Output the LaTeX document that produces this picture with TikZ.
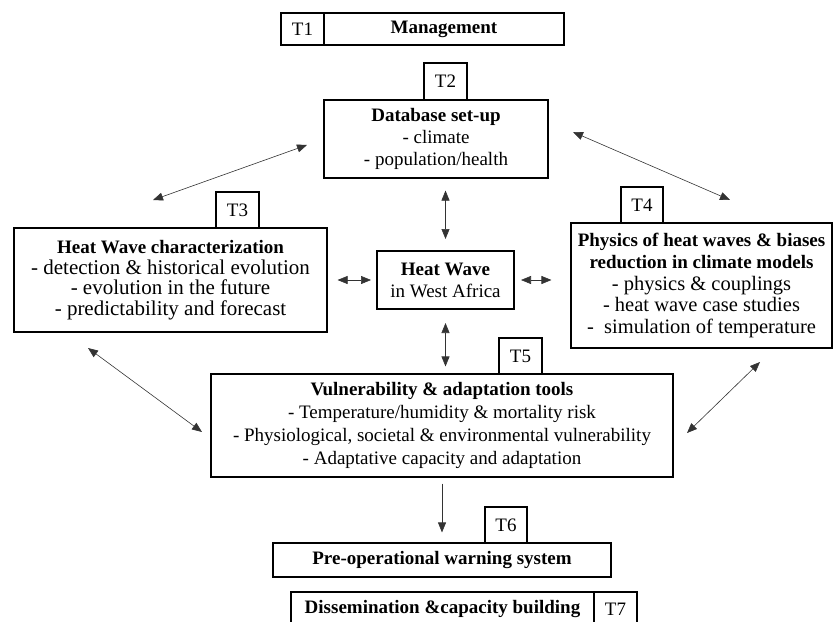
\documentclass[tikz,border=0pt]{standalone}
\usepackage{fontspec}
\setmainfont{Liberation Serif}
\usetikzlibrary{arrows.meta}
\newcommand{\bodybig}{\fontsize{21}{20.5}\selectfont}
\newcommand{\bodymid}{\fontsize{20.5}{21.7}\selectfont}
\begin{document}
\begin{tikzpicture}[x=1pt,y=-1pt,
  box/.style={draw,line width=1.1pt,inner sep=0pt,align=center,font=\fontsize{19}{22}\selectfont},
  tightbox/.style={box,font=\fontsize{19}{20.5}\selectfont},
  midbox/.style={box,font=\fontsize{19}{21.7}\selectfont},
  widebox/.style={box,font=\fontsize{19}{23}\selectfont},
  thickbox/.style={box,line width=2pt},
  biarr/.style={{Triangle[length=10pt,width=8pt]}-{Triangle[length=10pt,width=8pt]},line width=0.6pt,draw=black!80},
  onearr/.style={-{Triangle[length=10pt,width=8pt]},line width=0.6pt,draw=black!80}]
\useasboundingbox (0,0) rectangle (834,621);

% top
\node[box,minimum width=43pt,minimum height=32pt] (t1) at (302.5,29) {T1};
\node[box,minimum width=240pt,minimum height=32pt] (mg) at (444,29) {\textbf{Management}};

% database
\node[box,minimum width=43pt,minimum height=37pt] (t2) at (445.5,81.5) {T2};
\node[box,minimum width=224pt,minimum height=78pt] (db) at (436,139) {\textbf{Database set-up}\\- climate\\- population/health};

% heat wave characterization
\node[box,minimum width=43pt,minimum height=36pt] (t3) at (237.5,210) {T3};
\node[tightbox,minimum width=313pt,minimum height=104pt] (hwc) at (170.5,280) {\textbf{Heat Wave characterization}\\{\bodybig - detection \& historical evolution}\\{\bodybig - evolution in the future}\\{\bodybig - predictability and forecast}};

% physics
\node[box,minimum width=42pt,minimum height=36pt] (t4) at (642,205) {T4};
\node[midbox,minimum width=261pt,minimum height=125pt] (ph) at (701.5,285.5) {\textbf{Physics of heat waves \& biases}\\\textbf{reduction in climate models}\\{\bodymid - physics \& couplings}\\{\bodymid - heat wave case studies}\\{\bodymid -\ \ simulation of temperature}};

% center
\node[thickbox,minimum width=137pt,minimum height=58pt] (hw) at (445.5,280) {\textbf{Heat Wave}\\in West Africa};

% vulnerability
\node[box,minimum width=43pt,minimum height=36pt] (t5) at (520.5,356) {T5};
\node[widebox,minimum width=462pt,minimum height=103pt] (vu) at (442,425.5) {\textbf{Vulnerability \& adaptation tools}\\- Temperature/humidity \& mortality risk\\- Physiological, societal \& environmental vulnerability\\- Adaptative capacity and adaptation};

% pre-operational
\node[box,minimum width=42pt,minimum height=36pt] (t6) at (506,525) {T6};
\node[box,minimum width=338pt,minimum height=34pt] (pr) at (442,560) {\textbf{Pre-operational warning system}};

% dissemination
\node[box,minimum width=303pt,minimum height=34pt] (ds) at (442.5,609) {\textbf{Dissemination \&capacity building}};
\node[box,minimum width=43pt,minimum height=34pt] (t7) at (615.5,609) {T7};

% straight connectors
\draw[biarr,shorten <=12pt,shorten >=11pt] (hw.north |- db.south) -- (hw.north);
\draw[biarr,shorten <=13pt,shorten >=7pt] (hw.south) -- (hw.south |- vu.north);
\draw[biarr,shorten <=5pt,shorten >=10pt] (hw.west) -- (hw.west -| hwc.east);
\draw[biarr,shorten <=6pt,shorten >=19pt] (hw.east) -- (hw.east -| ph.west);
\draw[onearr,shorten <=6pt,shorten >=10pt] (vu.south) -- (vu.south |- pr.north);

% diagonal connectors
\coordinate (d1a) at (307,145); \coordinate (d1b) at (153,200);
\coordinate (d2a) at (573,132); \coordinate (d2b) at (730,200);
\coordinate (d3a) at (88,348);  \coordinate (d3b) at (202,432);
\coordinate (d4a) at (760,362); \coordinate (d4b) at (687,433);
\draw[biarr] (d1a) -- (d1b);
\draw[biarr] (d2a) -- (d2b);
\draw[biarr] (d3a) -- (d3b);
\draw[biarr] (d4a) -- (d4b);
\end{tikzpicture}
\end{document}
